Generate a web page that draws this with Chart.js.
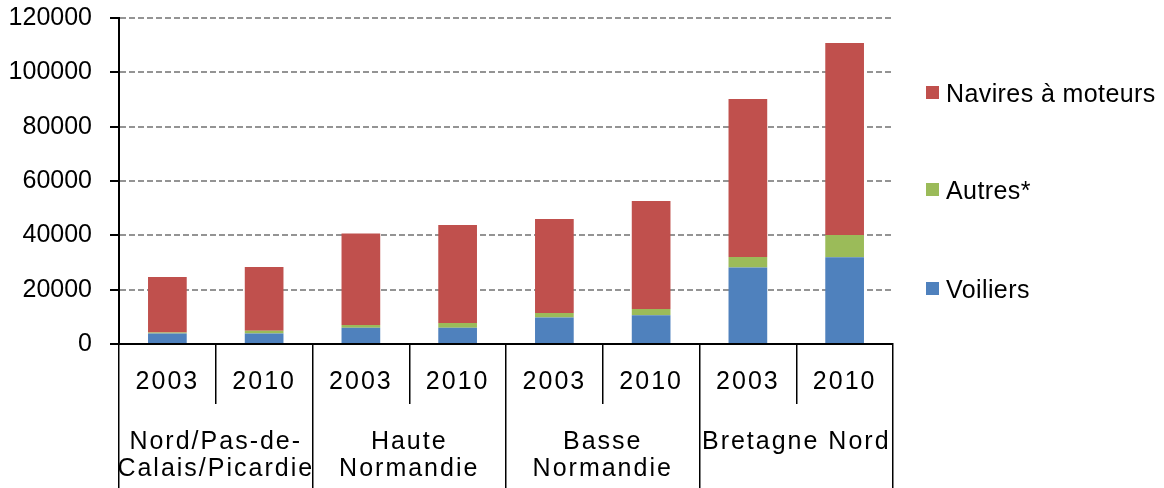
<!DOCTYPE html>
<html>
<head>
<meta charset="utf-8">
<script src="https://cdn.jsdelivr.net/npm/chart.js@4/dist/chart.umd.min.js"></script>
<style>
  body { margin: 0; background: #fff; }
  #wrap { position: relative; width: 1164px; height: 488px; }
  #legend { position: absolute; left: 926px; top: 0; font-family: "Liberation Sans", Arial, sans-serif; font-size: 25px; color: #000; letter-spacing: 0.4px; }
  .item { position: absolute; left: 0; white-space: nowrap; height: 30px; line-height: 30px; }
  .box { position: absolute; left: 0; top: 8px; width: 13px; height: 13px; }
  .lbl { position: absolute; left: 20px; top: 0; }
</style>
</head>
<body>
<div id="wrap">
  <canvas id="myChart" width="1164" height="488"></canvas>
  <div id="legend"></div>
</div>
<script>
// data
var years = ['2003', '2010', '2003', '2010', '2003', '2010', '2003', '2010'];
var regions = [['Nord/Pas-de-', 'Calais/Picardie'], ['Haute', 'Normandie'], ['Basse', 'Normandie'], ['Bretagne Nord']];
var voiliers = [3900, 3900, 6000, 6000, 9800, 10600, 28200, 31900];
var autres = [300, 1000, 1000, 1700, 1600, 2300, 3800, 8200];
var navires = [20500, 23400, 33700, 36100, 34600, 39700, 58200, 70700];
var yTicks = [0, 20000, 40000, 60000, 80000, 100000, 120000];

var font = { family: '"Liberation Sans", Arial, sans-serif', size: 25 };

// x labels in the original are drawn with some letter spacing
function spacedDraw(area) {
  var ctx = this.ctx;
  ctx.save();
  ctx.letterSpacing = '2px';
  Chart.Scale.prototype.draw.call(this, area);
  ctx.restore();
}

var ctx = document.getElementById('myChart').getContext('2d');
var chart = new Chart(ctx, {
  type: 'bar',
  data: {
    labels: years,
    datasets: [
      { label: 'Voiliers', data: voiliers, backgroundColor: '#4F81BD' },
      { label: 'Autres*', data: autres, backgroundColor: '#9BBB59' },
      { label: 'Navires à moteurs', data: navires, backgroundColor: '#C0504D' }
    ]
  },
  options: {
    responsive: false,
    animation: false,
    layout: { padding: { top: 18, right: 271, left: 0, bottom: 0 } },
    datasets: { bar: { barPercentage: 0.4, categoryPercentage: 1 } },
    plugins: { legend: { display: false }, tooltip: { enabled: false } },
    scales: {
      x: {
        stacked: true,
        offset: true,
        weight: 0,
        grid: { offset: true, drawOnChartArea: false, tickLength: 60, color: '#000', lineWidth: 1.5 },
        border: { display: true, color: '#000', width: 2 },
        ticks: { font: font, color: '#000', padding: -37, autoSkip: false, maxRotation: 0 },
        afterFit: function (s) { s.height = 60; },
        afterUpdate: function (s) { s.draw = spacedDraw; }
      },
      x2: {
        type: 'category',
        labels: regions,
        position: 'bottom',
        offset: true,
        weight: 1,
        grid: { offset: true, drawOnChartArea: false, tickLength: 84, color: '#000', lineWidth: 1.5 },
        border: { display: false },
        ticks: { font: { family: font.family, size: 25, lineHeight: 1.1 }, color: '#000', padding: -60, autoSkip: false, maxRotation: 0 },
        afterFit: function (s) { s.height = 84; },
        afterUpdate: function (s) { s.draw = spacedDraw; }
      },
      y: {
        stacked: true,
        min: 0,
        max: 120000,
        afterBuildTicks: function (s) { s.ticks = yTicks.map(function (v) { return { value: v }; }); },
        grid: { color: '#949494', lineWidth: 2, tickColor: '#000', tickLength: 9, tickWidth: 2 },
        border: { display: true, color: '#000', width: 2, dash: [6, 3] },
        ticks: { font: font, color: '#000', padding: 18, callback: function (v) { return String(v); } },
        afterFit: function (s) {
          s.width = 119;
          s.paddingTop = 0;
          s.paddingBottom = 0;
        }
      }
    }
  }
});

// legend, top to bottom in reverse stacking order
var legendTops = [78, 175, 274];
var legendEl = document.getElementById('legend');
chart.data.datasets.slice().reverse().forEach(function (ds, i) {
  var item = document.createElement('div');
  item.className = 'item';
  item.style.top = legendTops[i] + 'px';
  item.innerHTML = '<span class="box" style="background:' + ds.backgroundColor + '"></span><span class="lbl">' + ds.label + '</span>';
  legendEl.appendChild(item);
});
</script>
</body>
</html>
